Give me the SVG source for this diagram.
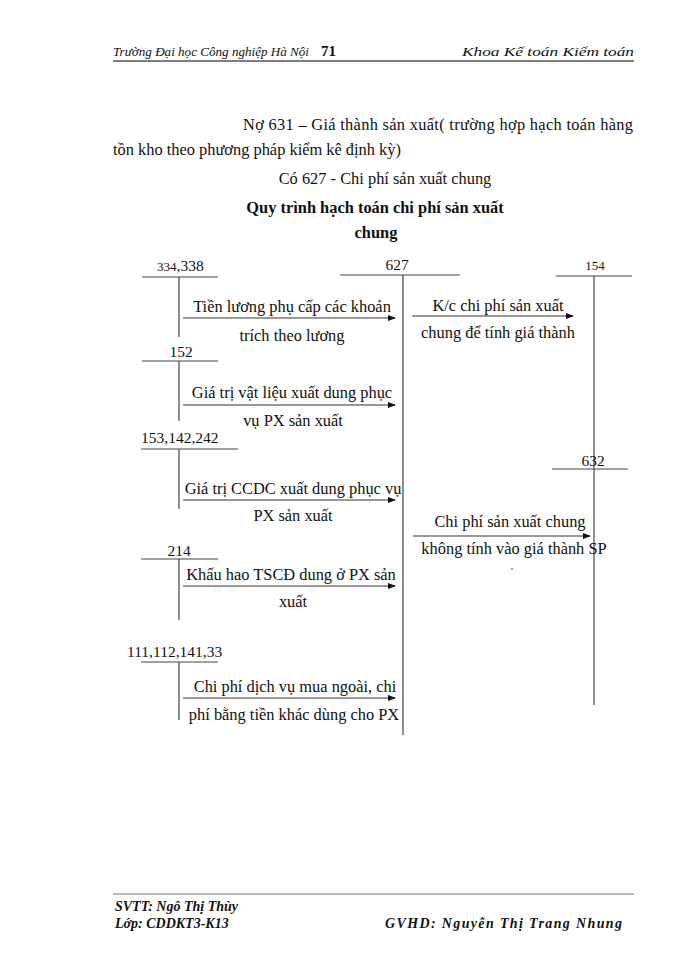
<svg xmlns="http://www.w3.org/2000/svg" width="700" height="960" viewBox="0 0 700 960">
<style>
text{font-family:"Liberation Serif","Times New Roman",serif;fill:#111}
.b{font-size:16.4px}
.h{font-size:13.3px;font-style:italic}
.f{font-size:14px;font-style:italic;font-weight:bold}
.n{font-size:15.5px}
.s{font-size:13px}
.ln{stroke:#444;stroke-width:1.2;fill:none}
.ar{stroke:#333;stroke-width:1.2;fill:none;marker-end:url(#ah)}
</style>
<defs>
<marker id="ah" markerWidth="8" markerHeight="6" refX="7" refY="3" orient="auto" markerUnits="userSpaceOnUse">
<path d="M0,0 L8,3 L0,6 Z" fill="#111"/>
</marker>
</defs>
<rect width="700" height="960" fill="#fff"/>
<g id="header">
<text class="h" x="113" y="56" textLength="196" lengthAdjust="spacingAndGlyphs">Trường Đại học Công nghiệp Hà Nội</text>
<text x="321" y="56" font-weight="bold" font-size="15px">71</text>
<text class="h" x="634" y="56" text-anchor="end" font-size="15px" textLength="172" lengthAdjust="spacingAndGlyphs">Khoa Kế toán Kiểm toán</text>
<line x1="113" y1="61" x2="634" y2="61" stroke="#555" stroke-width="1.5"/>
</g>
<g id="intro">
<text class="b" x="243" y="130" textLength="390" lengthAdjust="spacing">Nợ 631  – Giá thành  sản xuất( trường  hợp hạch toán hàng</text>
<text class="b" x="113" y="155">tồn kho theo phương pháp kiểm kê định kỳ)</text>
<text class="b" x="385" y="184" text-anchor="middle">Có 627 - Chi phí sản xuất chung</text>
<text class="b" x="375" y="213" text-anchor="middle" font-weight="bold">Quy trình hạch toán chi phí sản xuất</text>
<text class="b" x="376" y="238" text-anchor="middle" font-weight="bold">chung</text>
</g>
<g id="acc334"><text class="n" x="157" y="271"><tspan class="s">334</tspan>,338</text><line class="ln" x1="142" y1="277" x2="218" y2="277"/><line class="ln" x1="179" y1="277" x2="179" y2="337"/></g>
<g id="acc627"><text class="n" x="397" y="270" text-anchor="middle">627</text><line class="ln" x1="340" y1="275" x2="460" y2="275"/><line class="ln" x1="403" y1="275" x2="403" y2="735"/></g>
<g id="acc154"><text class="s" x="595" y="270" text-anchor="middle">154</text><line class="ln" x1="556" y1="276" x2="632" y2="276"/><line class="ln" x1="594" y1="276" x2="594" y2="705"/></g>
<g id="acc152"><text class="n" x="181" y="357" text-anchor="middle">152</text><line class="ln" x1="142" y1="361" x2="218" y2="361"/><line class="ln" x1="179" y1="361" x2="179" y2="421"/></g>
<g id="acc153"><text class="n" x="141" y="443" font-size="14px">153,142,242</text><line class="ln" x1="141" y1="449" x2="238" y2="449"/><line class="ln" x1="179" y1="449" x2="179" y2="509"/></g>
<g id="acc214"><text class="n" x="179" y="556" text-anchor="middle">214</text><line class="ln" x1="141" y1="559" x2="218" y2="559"/><line class="ln" x1="179" y1="559" x2="179" y2="620"/></g>
<g id="acc111"><text class="n" x="127" y="657" font-size="15.8px">111,112,141,33</text><line class="ln" x1="141" y1="662" x2="218" y2="662"/><line class="ln" x1="179" y1="662" x2="179" y2="720"/></g>
<g id="acc632"><text class="n" x="593" y="466" text-anchor="middle">632</text><line class="ln" x1="552" y1="469" x2="628" y2="469"/></g>
<g id="connectors">
<line class="ar" x1="183" y1="318" x2="395" y2="318"/>
<line class="ar" x1="183" y1="405" x2="395" y2="405"/>
<line class="ar" x1="183" y1="500" x2="395" y2="500"/>
<line class="ar" x1="183" y1="586" x2="395" y2="586"/>
<line class="ar" x1="183" y1="698" x2="395" y2="698"/>
<line class="ar" x1="412" y1="316" x2="573" y2="316"/>
<line class="ar" x1="413" y1="536" x2="590" y2="536"/>
</g>
<g id="labels">
<text class="b" x="292" y="312" text-anchor="middle">Tiền lương phụ cấp các khoản</text>
<text class="b" x="292" y="341" text-anchor="middle">trích theo lương</text>
<text class="b" x="292" y="398" text-anchor="middle">Giá trị  vật liệu  xuất  dung phục</text>
<text class="b" x="293" y="426" text-anchor="middle">vụ PX sản xuất</text>
<text class="b" x="293" y="494" text-anchor="middle">Giá trị CCDC xuất dung phục vụ</text>
<text class="b" x="293" y="521" text-anchor="middle">PX sản xuất</text>
<text class="b" x="291" y="580" text-anchor="middle">Khấu hao TSCĐ dung ở PX sản</text>
<text class="b" x="293" y="607" text-anchor="middle">xuất</text>
<text class="b" x="295" y="692" text-anchor="middle">Chi phí dịch vụ mua ngoài, chi</text>
<text class="b" x="294" y="720" text-anchor="middle">phí bằng tiền khác dùng cho PX</text>
<text class="b" x="498" y="311" text-anchor="middle">K/c chi phí sản xuất</text>
<text class="b" x="498" y="338" text-anchor="middle">chung để tính giá  thành</text>
<text class="b" x="510" y="527" text-anchor="middle">Chi phí sản xuất  chung</text>
<text class="b" x="514" y="554" text-anchor="middle">không tính vào giá thành SP</text>
<circle cx="512" cy="569" r="0.8" fill="#333"/>
</g>
<g id="footer">
<line x1="113" y1="894" x2="634" y2="894" stroke="#777" stroke-width="1"/>
<text class="f" x="115" y="911">SVTT:  Ngô Thị Thùy</text>
<text class="f" x="115" y="928">Lớp: CDDKT3-K13</text>
<text class="f" x="622" y="928" text-anchor="end" font-size="15px" textLength="237" lengthAdjust="spacing">GVHD:  Nguyễn  Thị  Trang Nhung</text>
</g>
</svg>
